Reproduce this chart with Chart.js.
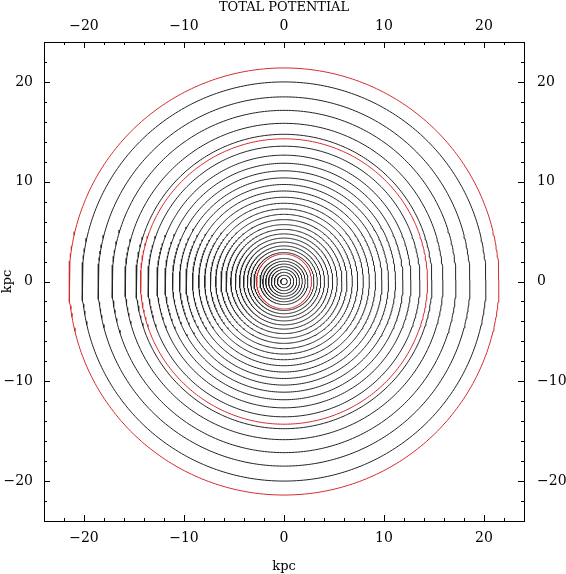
<!DOCTYPE html>
<html>
<head>
<meta charset="utf-8">
<script src="https://cdn.jsdelivr.net/npm/chart.js@4.4.1/dist/chart.umd.min.js"></script>
<style>
  html, body { margin: 0; padding: 0; background: #fff; }
  #plot { display: block; }
</style>
</head>
<body>
<canvas id="plot" width="566" height="574"></canvas>
<script>
// equipotential contours, semi-axes in kpc
var blackRx = [0.33, 0.67, 0.97, 1.27, 1.55, 1.83, 2.12, 2.4, 3.0, 3.33, 3.67, 4.05, 4.45, 4.87,
    5.32, 5.8, 6.3, 6.83, 7.37, 7.93, 8.53, 9.15, 9.8, 10.45, 11.15, 11.9, 12.7, 13.6,
    14.8, 15.9, 17.2, 18.6, 20.2];
var blackRy = [0.31, 0.63, 0.92, 1.21, 1.48, 1.75, 2.03, 2.31, 2.9, 3.23, 3.57, 3.95, 4.35, 4.77,
    5.22, 5.7, 6.2, 6.73, 7.27, 7.84, 8.44, 9.07, 9.72, 10.38, 11.09, 11.85, 12.66, 13.56,
    14.75, 15.85, 17.15, 18.5, 20.0];
var redRx = [2.75, 14.35, 21.5];
var redRy = [2.75, 14.3, 21.4];

var axisMin = -24;
var axisMax = 24;
var majorTicks = [-20, -10, 0, 10, 20];

function ring(rx, ry) {
    var pts = [];
    var n = 360;
    for (var i = 0; i <= n; i++) {
        var a = 2 * Math.PI * (i + 0.5) / n;
        pts.push({ x: rx * Math.cos(a), y: ry * Math.sin(a) });
    }
    return pts;
}

var datasets = [];
blackRx.forEach(function (rx, i) {
    datasets.push({ data: ring(rx, blackRy[i]), borderColor: '#222' });
});
redRx.forEach(function (rx, i) {
    datasets.push({ data: ring(rx, redRy[i]), borderColor: '#d42a2a' });
});
datasets.forEach(function (d) {
    d.showLine = true;
    d.pointRadius = 0;
    d.borderWidth = 1;
    d.tension = 0;
    d.xAxisID = 'x';
    d.yAxisID = 'y';
});

var serif = 'DejaVu Serif';

function fmt(v) {
    return v < 0 ? '\u2212' + Math.abs(v) : String(v);
}

function axis(pos, size, pad, titleText, titlePad) {
    return {
        type: 'linear',
        position: pos,
        min: axisMin,
        max: axisMax,
        afterBuildTicks: function (s) {
            s.ticks = majorTicks.map(function (v) { return { value: v }; });
        },
        afterFit: function (s) {
            if (pos === 'left' || pos === 'right') s.width = size; else s.height = size;
        },
        grid: { display: false, drawTicks: false },
        border: { display: true, color: '#000', width: 1 },
        ticks: {
            padding: pad,
            color: '#000',
            font: { family: serif, size: 14 },
            maxRotation: 0,
            callback: function (v) { return fmt(v); }
        },
        title: {
            display: !!titleText,
            text: titleText || '',
            color: '#000',
            font: { family: serif, size: 13 },
            padding: titlePad || 0
        }
    };
}

// inward ticks on all four sides, minor every 2 kpc
var inwardTicks = {
    id: 'inwardTicks',
    afterDraw: function (chart) {
        var c = chart.ctx;
        var a = chart.chartArea;
        c.save();
        c.strokeStyle = '#000';
        c.lineWidth = 1;
        c.beginPath();
        for (var v = -22; v <= 22; v += 2) {
            var len = (v % 10 === 0) ? 6 : 3;
            var px = Math.round(chart.scales.x.getPixelForValue(v)) + 0.5;
            var py = Math.round(chart.scales.y.getPixelForValue(v)) + 0.5;
            c.moveTo(px, a.bottom); c.lineTo(px, a.bottom - len);
            c.moveTo(px, a.top); c.lineTo(px, a.top + len);
            c.moveTo(a.left, py); c.lineTo(a.left + len, py);
            c.moveTo(a.right, py); c.lineTo(a.right - len, py);
        }
        c.stroke();
        c.restore();
    }
};

new Chart(document.getElementById('plot').getContext('2d'), {
    type: 'scatter',
    data: { datasets: datasets },
    options: {
        responsive: false,
        animation: false,
        layout: { padding: 0 },
        plugins: { legend: { display: false }, tooltip: { enabled: false } },
        scales: {
            x: axis('bottom', 53, 9, 'kpc', { top: 0, bottom: 0 }),
            x2: axis('top', 42, 7, 'TOTAL POTENTIAL', { top: 0, bottom: 0 }),
            y: axis('left', 44, 11, 'kpc', { top: 0, bottom: 0 }),
            y2: axis('right', 42, 13)
        }
    },
    plugins: [inwardTicks]
});
</script>
</body>
</html>
